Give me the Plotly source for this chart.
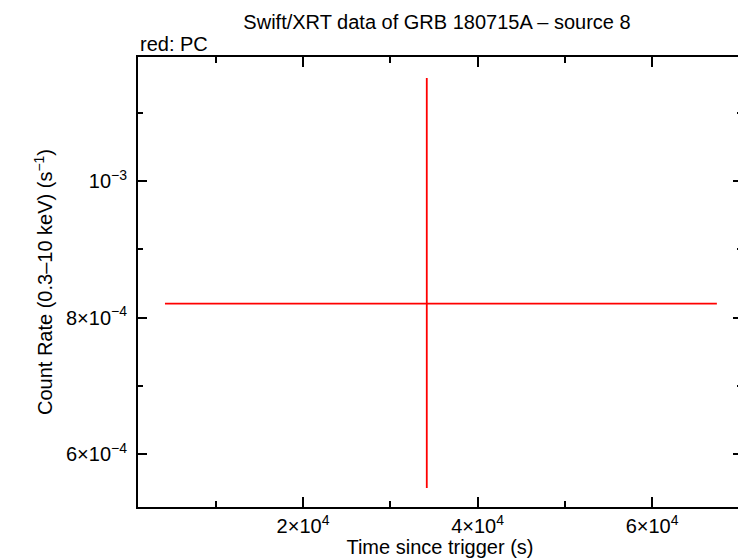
import plotly.graph_objects as go

# Data
time_s = [34180]
time_err_minus = [34180 - 4180]
time_err_plus = [67420 - 34180]
rate = [8.205e-4]
rate_err_plus = [1.1507e-3 - 8.205e-4]
rate_err_minus = [8.205e-4 - 5.507e-4]

x_tickvals = [2e4, 4e4, 6e4]
x_ticktext = ["2×10<sup>4</sup>", "4×10<sup>4</sup>", "6×10<sup>4</sup>"]
y_tickvals = [6e-4, 8e-4, 1e-3]
y_ticktext = ["6×10<sup>−4</sup>", "8×10<sup>−4</sup>", "10<sup>−3</sup>"]

font_family = "Liberation Sans, Arial, Helvetica, sans-serif"

fig = go.Figure()
fig.add_trace(go.Scatter(
    x=time_s, y=rate, mode="markers",
    marker=dict(size=1, color="red"),
    error_x=dict(type="data", symmetric=False, array=time_err_plus,
                 arrayminus=time_err_minus, color="red", thickness=1.8, width=0),
    error_y=dict(type="data", symmetric=False, array=rate_err_plus,
                 arrayminus=rate_err_minus, color="red", thickness=1.8, width=0),
    showlegend=False,
))

fig.update_layout(
    width=738, height=550,
    margin=dict(l=130, r=4, t=49, b=51, autoexpand=False),
    paper_bgcolor="white", plot_bgcolor="white",
    font=dict(family=font_family, color="black", size=20),
    title=dict(text="Swift/XRT data of GRB 180715A – source 8",
               x=0.495, xref="paper", y=0.988, yref="container",
               xanchor="center", yanchor="top", font=dict(size=20)),
    annotations=[dict(text="red: PC", xref="paper", yref="paper", x=0, y=1.0,
                      xanchor="left", yanchor="bottom", showarrow=False,
                      font=dict(size=20))],
)

fig.update_xaxes(
    range=[1090, 70300], showgrid=False, zeroline=False, automargin=False,
    showline=True, linecolor="black", linewidth=2, mirror="ticks",
    ticks="inside", ticklen=10, tickwidth=2, tickcolor="black",
    tickvals=x_tickvals, ticktext=x_ticktext, tickfont=dict(size=20),
    minor=dict(ticks="inside", ticklen=6, tickwidth=2, tickcolor="black",
               tickvals=[1e4, 3e4, 5e4, 7e4]),
    title=dict(text="Time since trigger (s)", font=dict(size=20), standoff=2),
)
fig.update_yaxes(
    range=[5.229e-4, 1.1814e-3], showgrid=False, zeroline=False, automargin=False,
    showline=True, linecolor="black", linewidth=2, mirror="ticks",
    ticks="inside", ticklen=9, tickwidth=2, tickcolor="black",
    tickvals=y_tickvals, ticktext=y_ticktext, tickfont=dict(size=20),
    ticklabelstandoff=5,
    minor=dict(ticks="inside", ticklen=5, tickwidth=2, tickcolor="black",
               tickvals=[7e-4, 9e-4, 1.1e-3]),
    title=dict(text="Count Rate (0.3–10 keV) (s<sup>−1</sup>)", font=dict(size=20), standoff=8),
)

fig.write_html("out.html")
